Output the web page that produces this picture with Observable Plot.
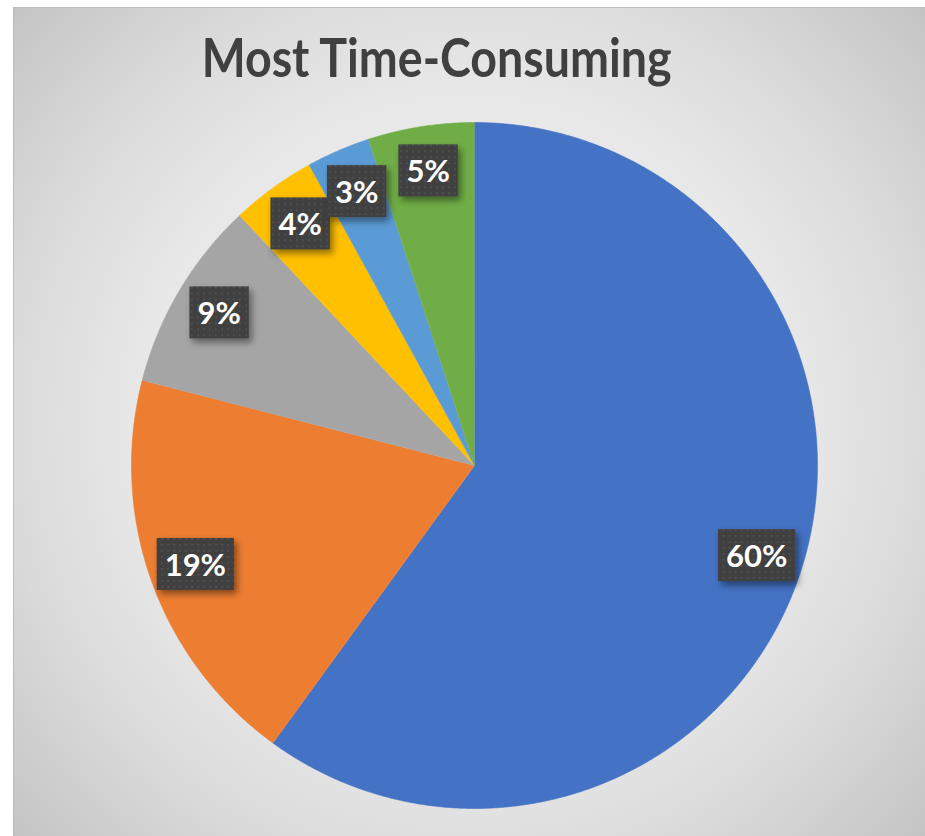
<!DOCTYPE html>
<html>
<head>
<meta charset="utf-8">
<script src="https://cdn.jsdelivr.net/npm/d3@7"></script>
<script src="https://cdn.jsdelivr.net/npm/@observablehq/plot@0.6"></script>
<style>
  html, body { margin: 0; padding: 0; background: #ffffff; }
  #wrap { position: relative; width: 925px; height: 836px; overflow: hidden; }
  #frame {
    position: absolute; left: 13px; top: 7px; width: 912px; height: 829px;
    box-sizing: border-box;
    border-left: 1px solid #bdbdbd; border-top: 1px solid #bdbdbd;
    background: radial-gradient(circle farthest-corner at 50% 50%, #f4f4f4 0%, #e7e7e7 55%, #dadada 75%, #c4c4c4 100%);
  }
  #title {
    position: absolute; left: 0; top: 30px; width: 874px; text-align: center;
    font-family: Lato, "Open Sans", sans-serif; font-weight: bold; font-size: 54px;
    line-height: 54px; color: #404040; white-space: nowrap;
  }
  #title span { display: inline-block; transform-origin: 50% 50%; }
  #chart { position: absolute; left: 0; top: 100px; }
</style>
</head>
<body>
<div id="wrap">
  <div id="frame"></div>
  <div id="title"><span>Most Time-Consuming</span></div>
  <div id="chart"></div>
</div>
<script>
// ---- data ----
const categories = ["Slice 1", "Slice 2", "Slice 3", "Slice 4", "Slice 5", "Slice 6"];
const shares = [60, 19, 9, 4, 3, 5];
const colors = ["#4472C4", "#ED7D31", "#A5A5A5", "#FFC000", "#5B9BD5", "#70AD47"];
const labels = shares.map(v => v + "%");

// ---- geometry of slices (clockwise from 12 o'clock) ----
const total = d3.sum(shares);
const slicePts = [];
const labelPts = [];
let acc = 0;
shares.forEach((v, i) => {
  const a0 = acc / total * 2 * Math.PI;
  acc += v;
  const a1 = acc / total * 2 * Math.PI;
  const n = Math.max(2, Math.ceil((a1 - a0) / 0.005));
  slicePts.push({k: categories[i], x: 0, y: 0, c: colors[i]});
  for (let j = 0; j <= n; j++) {
    const a = a0 + (a1 - a0) * j / n;
    slicePts.push({k: categories[i], x: Math.sin(a), y: Math.cos(a), c: colors[i]});
  }
  const am = (a0 + a1) / 2;
  const rr = 0.865;
  labelPts.push({x: rr * Math.sin(am), y: rr * Math.cos(am), t: labels[i]});
});

const plot = Plot.plot({
  width: 925,
  height: 736,
  margin: 0,
  style: "background: transparent; overflow: visible;",
  x: {domain: [-1, 1], range: [131, 817], axis: null},
  y: {domain: [-1, 1], range: [708, 22], axis: null},
  color: {type: "identity"},
  marks: [
    Plot.line(slicePts, {x: "x", y: "y", z: "k", fill: "c", stroke: "c", strokeWidth: 0.6, curve: "linear"}),
    Plot.text(labelPts, {x: "x", y: "y", text: "t", fill: "white", fontSize: 31, fontWeight: "bold",
      fontFamily: "Lato, 'Open Sans', sans-serif", textAnchor: "middle", lineAnchor: "middle", className: "lbl"})
  ]
});
document.getElementById("chart").appendChild(plot);

// ---- label boxes (dotted dark fill with shadow) ----
const svg = d3.select(plot);
const defs = svg.insert("defs", ":first-child");
const pat = defs.append("pattern").attr("id", "dots").attr("width", 6).attr("height", 6)
  .attr("patternUnits", "userSpaceOnUse");
pat.append("rect").attr("width", 6).attr("height", 6).attr("fill", "#404040");
pat.append("rect").attr("x", 2).attr("y", 2).attr("width", 1.6).attr("height", 1.6).attr("fill", "#575757");
const filt = defs.append("filter").attr("id", "shadow").attr("x", "-30%").attr("y", "-30%")
  .attr("width", "160%").attr("height", "160%");
filt.append("feDropShadow").attr("dx", 3).attr("dy", 4).attr("stdDeviation", 3.5)
  .attr("flood-color", "#000").attr("flood-opacity", 0.45);

function boxes() {
  svg.selectAll("rect.lblbox").remove();
  svg.selectAll("g.lbl text").each(function() {
    const bb = this.getBBox();
    const padX = 8;
    const h = 52;
    const r = document.createElementNS("http://www.w3.org/2000/svg", "rect");
    r.setAttribute("class", "lblbox");
    r.setAttribute("x", bb.x - padX);
    r.setAttribute("y", bb.y + bb.height / 2 - h / 2);
    r.setAttribute("width", bb.width + 2 * padX);
    r.setAttribute("height", h);
    r.setAttribute("fill", "url(#dots)");
    r.setAttribute("filter", "url(#shadow)");
    const tr = this.getAttribute("transform");
    if (tr) r.setAttribute("transform", tr);
    this.parentNode.insertBefore(r, this);
  });
}
function fitTitle() {
  const s = document.querySelector("#title span");
  s.style.transform = "none";
  const w = s.getBoundingClientRect().width;
  s.style.transform = "scaleX(" + (470 / w) + ")";
}
boxes(); fitTitle();
if (document.fonts && document.fonts.ready) document.fonts.ready.then(() => { boxes(); fitTitle(); });
</script>
</body>
</html>
